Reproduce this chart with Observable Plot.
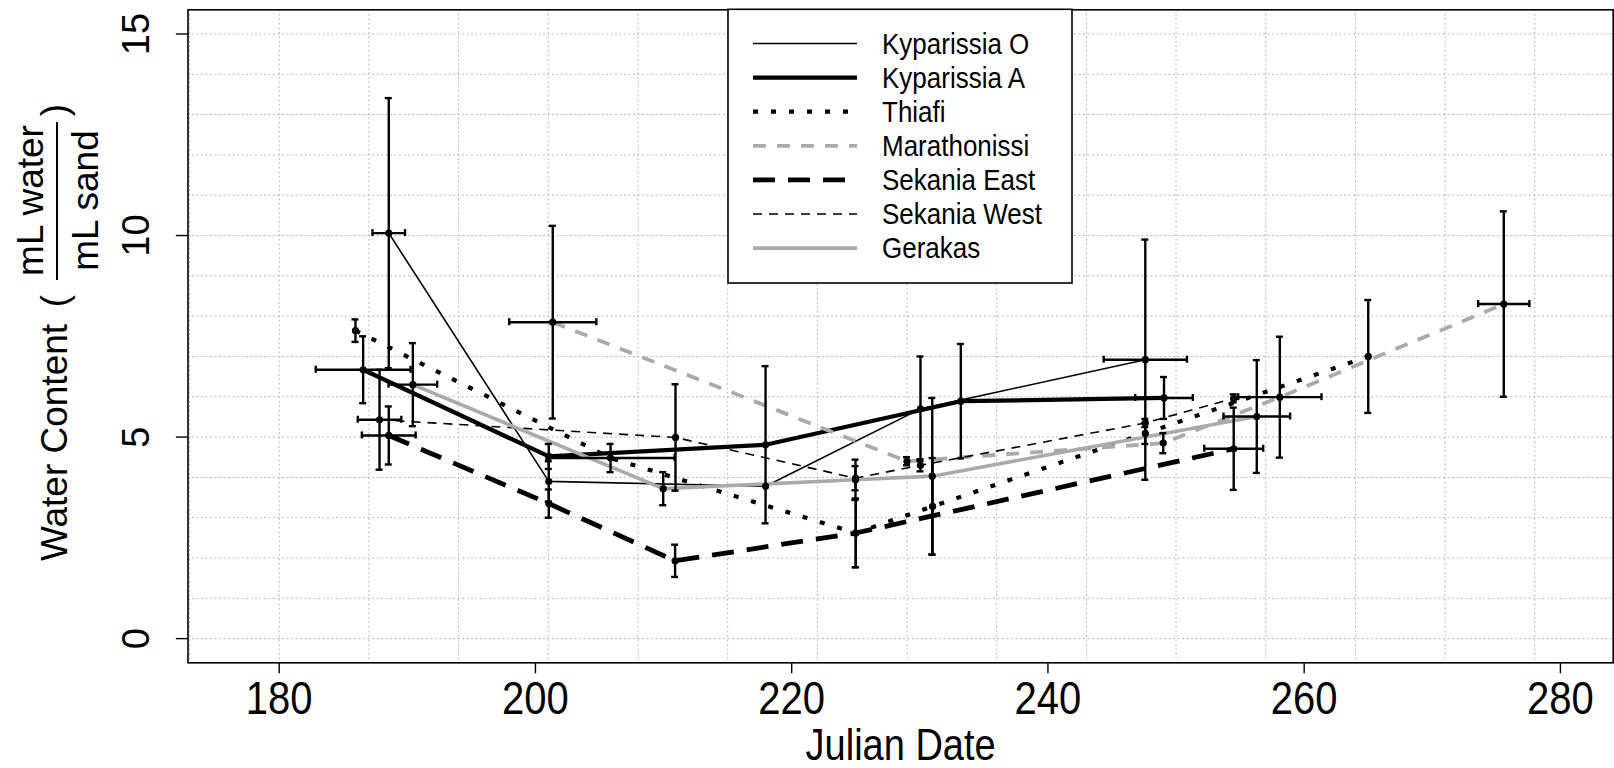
<!DOCTYPE html>
<html>
<head>
<meta charset="utf-8">
<script src="https://cdn.jsdelivr.net/npm/d3@7"></script>
<script src="https://cdn.jsdelivr.net/npm/@observablehq/plot@0.6"></script>
<style>
  html, body { margin: 0; padding: 0; background: #fff; }
  #chart { width: 1614px; height: 768px; overflow: hidden; }
  svg { display: block; }
</style>
</head>
<body>
<div id="chart"></div>
<script>
// ---------- data: [Julian day, water content, day error, content error] ----------
const siteNames = ["Kyparissia O", "Kyparissia A", "Thiafi", "Marathonissi", "Sekania East", "Sekania West", "Gerakas"];

const kyparissiaO = [
  [188.55, 10.06, 1.27, 3.35],
  [201.04, 3.90, 0, 0.50],
  [217.96, 3.78, 0, 0],
  [230.05, 5.70, 0, 1.30],
  [247.60, 6.92, 3.25, 2.98]
];
const kyparissiaA = [
  [186.55, 6.67, 3.70, 0.83],
  [201.04, 4.52, 0, 0.31],
  [217.96, 4.81, 0, 1.95],
  [233.20, 5.89, 0, 1.42],
  [249.06, 5.97, 2.25, 0.52]
];
const thiafi = [
  [185.95, 7.64, 0, 0.28],
  [205.86, 4.48, 5.0, 0.35],
  [225.00, 2.62, 0, 0.85],
  [231.00, 3.28, 0, 1.20],
  [247.60, 5.09, 0, 0.26],
  [265.00, 7.00, 0, 1.40]
];
const marathonissi = [
  [201.35, 7.85, 3.40, 2.39],
  [229.00, 4.40, 0, 0.10],
  [249.00, 4.85, 0, 0.25],
  [258.10, 5.99, 3.25, 1.50],
  [275.58, 8.30, 2.00, 2.30]
];
const sekaniaEast = [
  [188.55, 5.04, 2.10, 0.72],
  [201.04, 3.35, 0, 0.35],
  [210.90, 1.93, 0, 0.40],
  [225.00, 2.62, 0, 0.85],
  [254.50, 4.71, 2.30, 1.02]
];
const sekaniaWest = [
  [187.83, 5.43, 1.70, 1.24],
  [210.93, 4.99, 0, 1.32],
  [224.98, 3.98, 0, 0.30],
  [230.05, 4.30, 0, 0.15],
  [247.60, 5.35, 0, 0.10],
  [254.50, 5.96, 0, 0.10]
];
const gerakas = [
  [190.43, 6.30, 1.90, 1.03],
  [209.97, 3.72, 0, 0.41],
  [224.98, 3.94, 0, 0.50],
  [230.97, 4.03, 0, 1.94],
  [256.30, 5.51, 2.60, 1.40]
];

const xTicks = [180, 200, 220, 240, 260, 280];
const yTicks = [0, 5, 10, 15];
const xGrid = d3.range(173, 279, 7);     // weekly vertical grid
const yGrid = d3.range(0, 16, 1);        // unit horizontal grid

// ---------- styles ----------
const seriesData = [kyparissiaO, kyparissiaA, thiafi, marathonissi, sekaniaEast, sekaniaWest, gerakas];
const lineStyles = {
  "Kyparissia O": {stroke: "#000", width: 1.6, dash: null},
  "Kyparissia A": {stroke: "#000", width: 4.2, dash: null},
  "Thiafi":       {stroke: "#000", width: 4.2, dash: "5,13"},
  "Marathonissi": {stroke: "#aaaaaa", width: 3.8, dash: "13,11"},
  "Sekania East": {stroke: "#000", width: 4.8, dash: "22,13"},
  "Sekania West": {stroke: "#000", width: 1.6, dash: "9,7"},
  "Gerakas":      {stroke: "#aaaaaa", width: 3.6, dash: null}
};

// ---------- layout ----------
const W = 1614, H = 768;
const mL = 187.5, mR = 1.3, mT = 9.3, mB = 105.7;
const xDomain = [172.88, 284.12];
const yDomain = [-0.6, 15.6];
const pxPerDay = (W - mL - mR) / (xDomain[1] - xDomain[0]);
const pxPerUnit = (H - mT - mB) / (yDomain[1] - yDomain[0]);
const FONT = "'Liberation Sans', Arial, Helvetica, sans-serif";
const STRETCH = 1.15;   // the original picture is slightly stretched vertically

const rows = siteNames.flatMap((site, i) =>
  seriesData[i].map(([day, value, dx, dy]) => ({site, day, value, dx, dy})));

const capDays = 3.5 / pxPerDay;
const capUnits = 3.5 / pxPerUnit;
const vErr = rows.filter(d => d.dy > 0);
const hErr = rows.filter(d => d.dx > 0);

const lineMarks = siteNames.map(site => {
  const s = lineStyles[site];
  return Plot.line(rows.filter(d => d.site === site), {
    x: "day", y: "value", stroke: s.stroke, strokeWidth: s.width,
    strokeDasharray: s.dash || undefined, strokeLinecap: "butt", strokeLinejoin: "round"
  });
});

const errStyle = {stroke: "#000", strokeWidth: 2.4};

const chart = Plot.plot({
  width: W, height: H,
  marginLeft: mL, marginRight: mR, marginTop: mT, marginBottom: mB,
  style: {fontFamily: FONT, background: "#fff", color: "#000", overflow: "visible"},
  x: {domain: xDomain, axis: null},
  y: {domain: yDomain, axis: null},
  marks: [
    Plot.ruleX(xGrid, {x: d => d, stroke: "#b8b8b8", strokeWidth: 1, strokeDasharray: "2,2.5"}),
    Plot.ruleY(yGrid, {y: d => d, stroke: "#b8b8b8", strokeWidth: 1, strokeDasharray: "2,2.5"}),
    ...lineMarks,
    // vertical error bars + caps
    Plot.ruleX(vErr, {x: "day", y1: d => d.value - d.dy, y2: d => d.value + d.dy, ...errStyle}),
    Plot.ruleY(vErr, {y: d => d.value + d.dy, x1: d => d.day - capDays, x2: d => d.day + capDays, ...errStyle}),
    Plot.ruleY(vErr, {y: d => d.value - d.dy, x1: d => d.day - capDays, x2: d => d.day + capDays, ...errStyle}),
    // horizontal error bars + caps
    Plot.ruleY(hErr, {y: "value", x1: d => d.day - d.dx, x2: d => d.day + d.dx, ...errStyle}),
    Plot.ruleX(hErr, {x: d => d.day - d.dx, y1: d => d.value - capUnits, y2: d => d.value + capUnits, ...errStyle}),
    Plot.ruleX(hErr, {x: d => d.day + d.dx, y1: d => d.value - capUnits, y2: d => d.value + capUnits, ...errStyle}),
    Plot.dot(rows, {x: "day", y: "value", r: 3.6, fill: "#000", stroke: null}),
    Plot.frame({stroke: "#000", strokeWidth: 1.6}),
    // axis ticks
    Plot.ruleX(xTicks, {x: d => d, y1: yDomain[0], y2: yDomain[0] - 11 / pxPerUnit, stroke: "#000", strokeWidth: 1.4}),
    Plot.ruleY(yTicks, {y: d => d, x1: xDomain[0], x2: xDomain[0] - 11.7 / pxPerDay, stroke: "#000", strokeWidth: 1.4}),
    // tick labels
    Plot.text(xTicks, {x: d => d, y: yDomain[0], dy: 19, lineAnchor: "top", text: d => String(d), fontSize: 40, fill: "#000"}),
    Plot.text(yTicks, {x: xDomain[0], y: d => d, dx: -51.5, rotate: -90, lineAnchor: "middle", text: d => String(d), fontSize: 38, fill: "#000"}),
    // x axis title
    Plot.text(["Julian Date"], {frameAnchor: "bottom", dy: 66, lineAnchor: "top", text: d => d, fontSize: 38, fill: "#000"})
  ]
});

document.getElementById("chart").appendChild(chart);
const svg = d3.select(chart);

// stretch horizontal text vertically, like the reference picture
svg.selectAll("text").each(function () {
  const el = this;
  const t = el.getAttribute("transform") || "";
  if (t.includes("rotate")) return;
  let tx = 0, ty = 0;
  const xa = el.getAttribute("x"), ya = el.getAttribute("y");
  if (xa != null && !/em$/.test(xa)) { tx = +xa || 0; el.removeAttribute("x"); }
  if (ya != null && !/em$/.test(ya)) { ty = +ya || 0; el.removeAttribute("y"); }
  el.setAttribute("transform", `${t} translate(${tx},${ty}) scale(1,${STRETCH})`);
});

// ---------- legend (inside plot, top centre) ----------
const lg = svg.append("g").attr("font-family", FONT).attr("text-anchor", "start");
lg.append("rect").attr("x", 728).attr("y", 9.3).attr("width", 344).attr("height", 273.7)
  .attr("fill", "#fff").attr("stroke", "#000").attr("stroke-width", 1.6);
siteNames.forEach((site, i) => {
  const s = lineStyles[site];
  const y = 43.5 + 34.1 * i;
  lg.append("line").attr("x1", 753).attr("x2", 857).attr("y1", y).attr("y2", y)
    .attr("stroke", s.stroke).attr("stroke-width", s.width)
    .attr("stroke-dasharray", s.dash).attr("stroke-linecap", "butt");
  lg.append("text").attr("transform", `translate(882,${y}) scale(1,1.12)`).attr("dy", "0.35em")
    .attr("text-anchor", "start").attr("font-size", 26).attr("fill", "#000").text(site);
});

// ---------- y axis title with fraction ----------
const yt = svg.append("g").attr("transform", "rotate(-90)")
  .attr("font-family", FONT).attr("font-size", 37).attr("fill", "#000").attr("text-anchor", "middle");
yt.append("text").attr("x", -442.5).attr("y", 54).attr("dy", "0.35em").text("Water Content");
yt.append("text").attr("x", -301).attr("y", 54).attr("dy", "0.35em").text("(");
yt.append("text").attr("x", -200.5).attr("y", 30).attr("dy", "0.35em").text("mL water");
yt.append("line").attr("x1", -280).attr("x2", -122).attr("y1", 57).attr("y2", 57).attr("stroke", "#000").attr("stroke-width", 2);
yt.append("text").attr("x", -200.5).attr("y", 85).attr("dy", "0.35em").text("mL sand");
yt.append("text").attr("x", -110).attr("y", 54).attr("dy", "0.35em").text(")");
</script>
</body>
</html>
